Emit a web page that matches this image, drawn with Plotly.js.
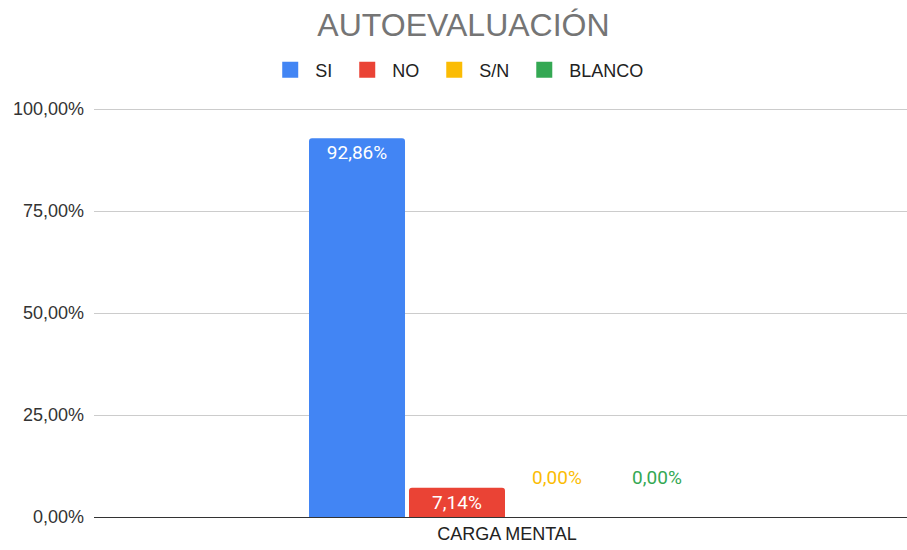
<!DOCTYPE html>
<html><head><meta charset="utf-8">
<script src="https://cdn.plot.ly/plotly-3.0.1.min.js"></script>
<style>html,body{margin:0;padding:0;background:#fff}#c{width:907px;height:550px}</style>
</head><body><div id="c"></div>
<script>
const categories = ["CARGA MENTAL"];
const seriesNames = ["SI", "NO", "S/N", "BLANCO"];
const seriesValues = [[0.9286], [0.0714], [0.0], [0.0]];
const seriesColors = ["#4285f4", "#ea4335", "#fbbc04", "#34a853"];
const textPositions = ["inside", "inside", "outside", "outside"];
const textColors = ["#ffffff", "#ffffff", "#fbbc04", "#34a853"];
const yTickVals = [0, 0.25, 0.5, 0.75, 1];

const fmt = v => (v * 100).toFixed(2).replace(".", ",") + "%";
const ARIAL = "Arial, 'Liberation Sans', sans-serif";
const ROBOTO = "Roboto, Arial, sans-serif";
const NB = "\u00a0";

const bars = seriesNames.map((n, i) => ({
  type: "bar",
  name: n,
  x: categories,
  y: seriesValues[i],
  marker: { color: seriesColors[i] },
  text: seriesValues[i].map(v => textPositions[i] === "outside" ? fmt(v) + "<br> " : fmt(v)),
  textposition: textPositions[i],
  insidetextanchor: "end",
  textfont: { family: ROBOTO, size: 19, color: textColors[i] },
  cliponaxis: false,
  showlegend: false,
  hoverinfo: "none"
}));

// legend entries (no visible points)
const legendTraces = seriesNames.map((n, i) => ({
  type: "scatter", mode: "markers", name: NB + n + NB + NB,
  x: categories, y: [null],
  marker: { symbol: "square", size: 16, color: seriesColors[i] },
  showlegend: true, hoverinfo: "none"
}));

const layout = {
  width: 907, height: 550,
  margin: { l: 94, r: 0, t: 107, b: 33 },
  paper_bgcolor: "#fff", plot_bgcolor: "#fff",
  font: { family: ARIAL, size: 18, color: "#222" },
  title: { text: "AUTOEVALUACIÓN", x: 0.511, xanchor: "center", y: 0.955, yanchor: "middle",
           font: { family: ARIAL, size: 32, color: "#757575" } },
  separators: ",.",
  barmode: "group",
  bargap: 0.508,
  bargroupgap: 0.04,
  barcornerradius: 3,
  showlegend: true,
  legend: { orientation: "h", x: 0.456, xanchor: "center", y: 1.09, yanchor: "middle",
            font: { family: ARIAL, size: 18, color: "#222" }, itemsizing: "trace",
            itemclick: false },
  xaxis: { type: "category", range: [-0.508, 0.492], showgrid: false,
           showline: true, linecolor: "#333", linewidth: 1, ticks: "",
           tickfont: { family: ARIAL, size: 18, color: "#222" } },
  yaxis: { range: [0, 1.005], tickvals: yTickVals, tickformat: ".2%",
           showgrid: true, gridcolor: "#cccccc", zeroline: true, zerolinecolor: "#333",
           tickfont: { family: ARIAL, size: 18, color: "#333" }, ticks: "", ticklabelstandoff: 9 }
};
Plotly.newPlot("c", bars.concat(legendTraces), layout, { displayModeBar: false, staticPlot: true });
</script></body></html>
